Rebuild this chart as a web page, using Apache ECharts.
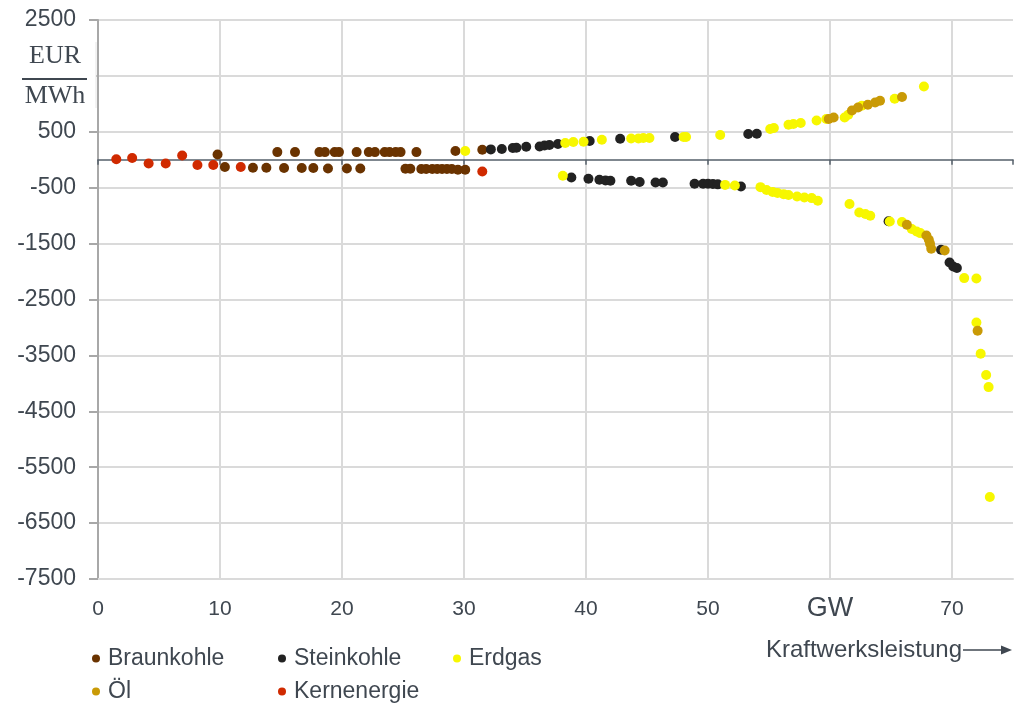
<!DOCTYPE html>
<html>
<head>
<meta charset="utf-8">
<script src="https://cdn.jsdelivr.net/npm/echarts@6/dist/echarts.min.js"></script>
<style>
  html, body { margin: 0; padding: 0; background: #fff; }
  #chart { width: 1014px; height: 704px; }
</style>
</head>
<body>
<div id="chart"></div>
<script>
// [GW, EUR/MWh]
const braunkohle = [
  [9.8, 95], [10.4, -131], [12.7, -143], [13.8, -143], [14.7, 137], [15.25, -149], [16.15, 137],
  [16.7, -149], [17.65, -149], [18.15, 137], [18.6, 137], [18.85, -155], [19.4, 137], [19.75, 137],
  [20.4, -155], [21.2, 137], [21.5, -155], [22.2, 137], [22.7, 137], [23.5, 137], [23.9, 137],
  [24.4, 137], [24.8, 137], [25.2, -161], [25.6, -161], [26.1, 137], [26.5, -167], [26.9, -167],
  [27.4, -167], [27.8, -167], [28.2, -167], [28.6, -167], [29.0, -167], [29.3, 155], [29.5, -179],
  [30.1, -179], [31.5, 179]
];
const steinkohle = [
  [32.2, 185], [33.1, 191], [34.0, 209], [34.3, 215], [35.1, 233], [36.2, 238], [36.6, 256],
  [37.0, 263], [37.7, 281], [40.3, 334], [42.8, 376], [47.3, 406], [53.3, 460], [54.0, 465],
  [38.8, -316], [40.2, -340], [41.1, -358], [41.6, -370], [42.0, -376], [43.7, -376], [44.4, -399],
  [45.7, -406], [46.3, -406], [48.9, -430], [49.6, -430], [50.0, -430], [50.4, -435], [50.8, -440],
  [52.7, -477], [64.8, -1100], [69.1, -1610], [69.8, -1837], [70.1, -1909], [70.4, -1938]
];
const erdgas = [
  [30.1, 155], [38.3, 299], [38.96, 316], [39.8, 322], [41.3, 358], [43.7, 380], [44.3, 380],
  [44.7, 388], [45.2, 388], [48.0, 406], [48.2, 406], [51.0, 442], [55.1, 549], [55.4, 567],
  [56.6, 626], [57.0, 638], [57.6, 656], [58.9, 703], [59.7, 728], [61.2, 757], [61.5, 805],
  [62.6, 966], [65.3, 1091], [67.7, 1311],
  [38.1, -286], [51.4, -450], [52.2, -460], [54.3, -490], [54.8, -540], [55.3, -575], [55.7, -595],
  [56.2, -615], [56.6, -632], [57.3, -656], [57.9, -674], [58.5, -686], [59.0, -733], [61.6, -793],
  [62.4, -943], [62.9, -972], [63.3, -1002], [64.9, -1104], [65.9, -1115], [66.7, -1240],
  [67.1, -1282], [67.4, -1312], [71.0, -2117], [72.0, -2123], [72.0, -2911], [72.35, -3471],
  [72.8, -3852], [73.0, -4067], [73.1, -6034]
];
const oel = [
  [59.9, 728], [60.3, 757], [61.8, 882], [62.3, 936], [63.1, 984], [63.7, 1025], [64.1, 1055],
  [65.9, 1121],
  [66.3, -1163], [67.9, -1354], [68.1, -1431], [68.2, -1503], [68.3, -1592], [69.4, -1622],
  [72.1, -3059]
];
const kernenergie = [
  [1.5, 10], [2.8, 30], [4.15, -66], [5.55, -66], [6.9, 77], [8.15, -95], [9.45, -95],
  [11.7, -131], [31.5, -209]
];

const xLabels = ["0", "10", "20", "30", "40", "50", "GW", "70"];
const yLabels = ["-7500", "-6500", "-5500", "-4500", "-3500", "-2500", "-1500", "-500", "500", "", "2500"];

const textColor = "#3f4750";
const gridColor = "#dadada";

const seriesDefs = [
  { name: "Braunkohle", data: braunkohle, color: "#6a3300" },
  { name: "Steinkohle", data: steinkohle, color: "#222222" },
  { name: "Erdgas", data: erdgas, color: "#f7f700" },
  { name: "Öl", data: oel, color: "#c99a06" },
  { name: "Kernenergie", data: kernenergie, color: "#d02a00" }
];
const legendPos = [
  { left: 87, top: 642 },
  { left: 273, top: 642 },
  { left: 448, top: 642 },
  { left: 87, top: 675 },
  { left: 273, top: 675 }
];

const chart = echarts.init(document.getElementById("chart"));

chart.setOption({
  animation: false,
  backgroundColor: "#fff",
  grid: { left: 98, right: 1, top: 20, bottom: 125 },
  legend: seriesDefs.map((s, i) => ({
    data: [s.name],
    left: legendPos[i].left,
    top: legendPos[i].top,
    icon: "circle",
    itemWidth: 8,
    itemHeight: 8,
    selectedMode: false,
    textStyle: {
      color: textColor,
      fontSize: 23,
      fontFamily: "Liberation Sans",
      padding: [0, 0, 0, 3]
    }
  })),
  xAxis: [
    {
      type: "value",
      min: 0,
      max: 75,
      interval: 10,
      axisLine: { onZero: false, lineStyle: { color: gridColor, width: 2 } },
      axisTick: { show: false },
      axisLabel: {
        margin: 16,
        color: textColor,
        fontSize: 21,
        fontFamily: "Liberation Sans",
        showMaxLabel: false,
        formatter: (v) => {
          const lbl = xLabels[Math.round(v / 10)];
          if (lbl === undefined) return "";
          return lbl === "GW" ? "{gw|GW}" : "{n|" + lbl + "}";
        },
        rich: {
          n: { fontSize: 21, lineHeight: 28, color: textColor, fontFamily: "Liberation Sans" },
          gw: { fontSize: 27, lineHeight: 28, color: textColor, fontFamily: "Liberation Sans" }
        }
      },
      splitLine: { show: true, showMaxLine: false, lineStyle: { color: gridColor, width: 2 } }
    },
    {
      type: "value",
      min: 0,
      max: 75,
      interval: 10,
      position: "bottom",
      axisLine: { onZero: true, lineStyle: { color: "#56606b", width: 1.5 } },
      axisTick: { show: true, length: 5, lineStyle: { color: "#56606b", width: 1.5 } },
      axisLabel: { show: false },
      splitLine: { show: false }
    }
  ],
  yAxis: {
    type: "value",
    min: -7500,
    max: 2500,
    interval: 1000,
    axisLine: { show: true, lineStyle: { color: "#a8a8a8", width: 2 } },
    axisTick: { show: true, length: 9, lineStyle: { color: "#a8a8a8", width: 2 } },
    axisLabel: {
      margin: 22,
      color: textColor,
      fontSize: 23,
      fontFamily: "Liberation Sans",
      formatter: (v) => {
        const lbl = yLabels[Math.round((v + 7500) / 1000)];
        return lbl === undefined ? "" : lbl;
      }
    },
    splitLine: { show: true, lineStyle: { color: gridColor, width: 2 } }
  },
  series: seriesDefs.map((s) => ({
    name: s.name,
    type: "scatter",
    xAxisIndex: 0,
    yAxisIndex: 0,
    data: s.data,
    symbolSize: 10,
    itemStyle: { color: s.color, opacity: 1 },
    emphasis: { disabled: true }
  })),
  graphic: [
    {
      type: "rect",
      z: 100,
      shape: { x: 8, y: 40, width: 88, height: 68 },
      style: { fill: "#fff" }
    },
    {
      type: "line",
      z: 101,
      shape: { x1: 96, y1: 42, x2: 96, y2: 108 },
      style: { stroke: "#e6e6e6", lineWidth: 1 }
    },
    {
      type: "text",
      z: 101,
      style: {
        x: 55, y: 56, text: "EUR", align: "center", verticalAlign: "middle",
        fill: textColor, font: '26px "Liberation Serif"'
      }
    },
    {
      type: "line",
      z: 101,
      shape: { x1: 22, y1: 79, x2: 87, y2: 79 },
      style: { stroke: textColor, lineWidth: 2 }
    },
    {
      type: "text",
      z: 101,
      style: {
        x: 55, y: 96, text: "MWh", align: "center", verticalAlign: "middle",
        fill: textColor, font: '26px "Liberation Serif"'
      }
    },
    {
      type: "text",
      z: 101,
      style: {
        x: 962, y: 650, text: "Kraftwerksleistung", align: "right", verticalAlign: "middle",
        fill: textColor, font: '24px "Liberation Sans"'
      }
    },
    {
      type: "line",
      z: 101,
      shape: { x1: 963, y1: 650, x2: 1003, y2: 650 },
      style: { stroke: textColor, lineWidth: 1.5 }
    },
    {
      type: "polygon",
      z: 101,
      shape: { points: [[1012, 650], [1001, 645.5], [1001, 654.5]] },
      style: { fill: textColor }
    }
  ]
});
</script>
</body>
</html>
